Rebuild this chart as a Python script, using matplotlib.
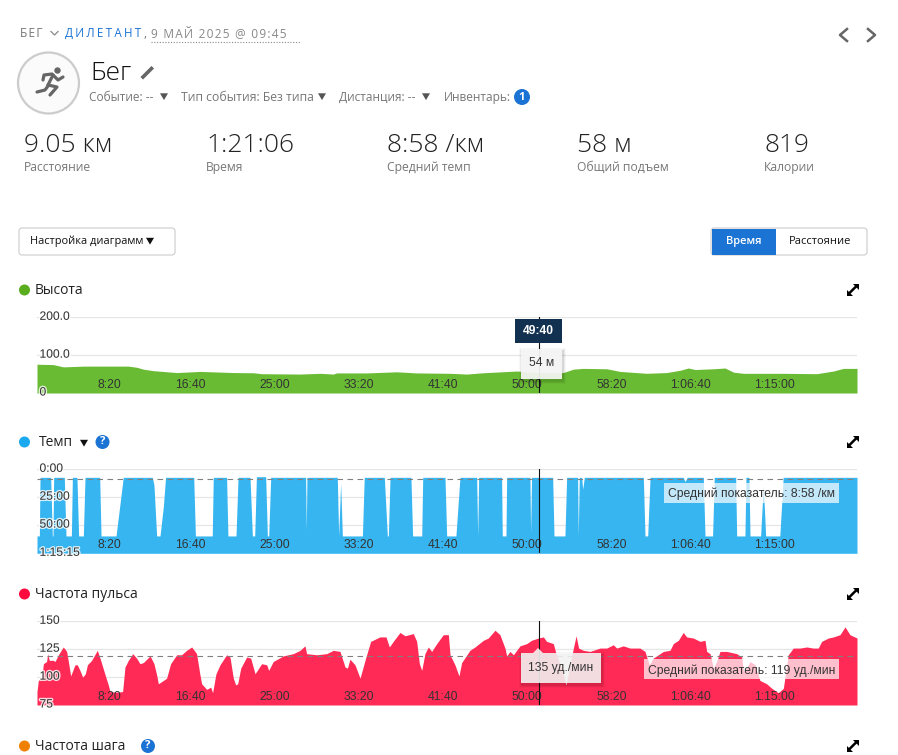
import matplotlib
matplotlib.use("Agg")
import matplotlib.pyplot as plt
import matplotlib.patheffects as pe
from matplotlib.patches import Rectangle, Circle, FancyBboxPatch, Polygon
from matplotlib.transforms import ScaledTranslation

W, H = 898, 755
UI_FONT = ["Open Sans", "DejaVu Sans"]
CHART_FONT = ["Liberation Sans", "DejaVu Sans"]

# seconds from the start of the activity
total_time = 4866
cursor_time = 2980
x_ticks = [500, 1000, 1500, 2000, 2500, 3000, 3500, 4000, 4500]
x_labels = ["8:20", "16:40", "25:00", "33:20", "41:40", "50:00", "58:20", "1:06:40", "1:15:00"]

# altitude, metres
alt_t = [0, 97, 156, 275, 374, 542, 591, 631, 690, 829, 968, 1165, 1284, 1333, 1561, 1680,
         1758, 1778, 1956, 2134, 2253, 2451, 2550, 2649, 2847, 2980, 3123, 3183, 3242, 3381,
         3460, 3618, 3737, 3816, 3865, 3905, 4014, 4083, 4133, 4192, 4429, 4627, 4726, 4785, 4866]
alt_m = [76, 75, 69, 71, 71, 71, 68, 63, 59, 54, 57, 54, 53.5, 51, 50, 52,
         50, 53, 53, 56, 53, 52, 50, 53.5, 58, 54, 54, 63, 65, 64,
         57, 52, 54, 60, 66, 62, 64, 66, 55, 52, 52, 51, 58, 65, 65]
alt_ticks = [0, 100, 200]
alt_labels = ["0", "100.0", "200.0"]

# pace, minutes per km
pace_t = [0, 14, 18, 81, 91, 95, 99, 162, 172, 204, 210, 237, 247, 275, 285, 372, 380,
          469, 512, 684, 694, 710, 730, 750, 763, 930, 940, 1040, 1046, 1125, 1133,
          1181, 1193, 1264, 1278, 1292, 1302, 1357, 1367, 1375, 1387, 1594, 1598, 1602,
          1782, 1790, 1802, 1812, 1931, 1942, 2061, 2079, 2085, 2095, 2219, 2229,
          2283, 2289, 2421, 2431, 2486, 2510, 2609, 2615, 2621, 2757, 2761, 2783, 2787,
          2925, 2929, 2935, 3060, 3068, 3133, 3143, 3208, 3212, 3218, 3232, 3238, 3248,
          3598, 3608, 3624, 3638, 3835, 3845, 3859, 3954, 3964, 4009, 4019, 4146, 4152,
          4201, 4207, 4225, 4231, 4294, 4310, 4324, 4408, 4428, 4866]
pace_min = [59.7, 59.7, 7.2, 7.2, 59.7, 59.7, 7.2, 7.2, 59.7, 59.7, 7.2, 7.2, 59.7, 59.7, 7.2, 7.2, 59.7,
            59.7, 7.2, 7.2, 14, 59.7, 59.7, 33, 7.2, 7.2, 59.7, 59.7, 7.2, 7.2, 59.7,
            59.7, 7.2, 7.2, 59.7, 59.7, 6.6, 6.6, 59.7, 59.7, 7.2, 7.2, 55, 7.2,
            7.2, 59.7, 12.5, 59.7, 59.7, 7.2, 7.2, 59.7, 59.7, 7.2, 7.2, 59.7,
            59.7, 7.2, 7.2, 59.7, 59.7, 7.2, 7.2, 59.7, 7.2, 7.2, 59.7, 59.7, 7.2,
            7.2, 57, 7.2, 7.2, 59.7, 59.7, 7.2, 7.2, 59.7, 7.2, 7.2, 18, 7.2,
            7.2, 59.7, 59.7, 7.2, 7.2, 11, 7.2, 7.2, 59.7, 59.7, 7.2, 7.2, 59.7,
            59.7, 7.2, 7.2, 59.7, 59.7, 14, 59.7, 59.7, 7.2, 7.2]
pace_ticks = [0, 25, 50, 75.25]
pace_labels = ["0:00", "25:00", "50:00", "1:15:15"]
pace_avg = 8.97

# heart rate, beats per minute
hr_t = [0, 8, 28, 38, 57, 63, 73, 97, 107, 127, 156, 176, 186, 200, 225, 239, 255, 271, 287, 299,
        324, 358, 378, 404, 423, 433, 473, 508, 522, 542, 568, 591, 611, 631, 671, 694, 710, 720,
        750, 769, 793, 829, 858, 888, 918, 947, 967, 977, 1007, 1031, 1042, 1062, 1086, 1125,
        1145, 1165, 1179, 1191, 1209, 1244, 1268, 1294, 1333, 1363, 1375, 1402, 1462, 1521,
        1561, 1590, 1600, 1660, 1719, 1758, 1798, 1828, 1842, 1857, 1887, 1917, 1952, 1980,
        2035, 2071, 2091, 2114, 2154, 2184, 2233, 2253, 2269, 2283, 2302, 2322, 2342, 2372,
        2411, 2441, 2451, 2480, 2504, 2520, 2569, 2599, 2649, 2678, 2718, 2747, 2777, 2787,
        2807, 2827, 2866, 2906, 2935, 2975, 3005, 3024, 3064, 3080, 3113, 3139, 3163, 3183,
        3199, 3214, 3242, 3282, 3341, 3381, 3420, 3440, 3479, 3519, 3578, 3608, 3618, 3634,
        3657, 3717, 3756, 3776, 3806, 3835, 3855, 3895, 3934, 3964, 3974, 3994, 4014, 4033,
        4053, 4093, 4152, 4182, 4192, 4211, 4231, 4261, 4290, 4330, 4360, 4399, 4429, 4449,
        4458, 4488, 4528, 4567, 4607, 4636, 4656, 4696, 4726, 4765, 4795, 4824, 4866]
hr_bpm = [87, 97, 100, 112, 114, 121, 115, 115, 114, 120, 127, 123, 114, 101, 111, 111, 106, 100, 103, 111,
          115, 124, 115, 102, 93, 87, 86.5, 87, 109, 115, 121, 117, 112, 113, 119, 112, 102, 94,
          97, 99, 112, 120, 120, 124, 127, 121, 102, 94, 89, 91, 86, 103, 111, 120,
          118, 99, 93, 94, 108, 118, 117, 103, 112, 111, 106, 114, 119, 121,
          124, 128, 121, 120, 121, 124, 123, 109, 108, 116, 111, 99, 118, 132,
          136, 136, 127, 132, 140, 137, 139, 132, 112, 106, 121, 127, 123, 130,
          138, 138, 120, 111, 101, 113, 124, 127, 133, 135, 142, 138, 126, 119,
          123, 120, 128, 130, 133, 135, 136, 132, 130, 121, 108, 93, 111, 126,
          137, 126, 124, 123, 126, 126, 129, 126, 128, 126, 126, 123, 118, 111,
          117, 123, 124, 130, 133, 140, 136, 135, 132, 133, 123, 121, 108, 114,
          123, 123, 121, 118, 105, 108, 114, 111, 97, 94, 90, 86, 90, 111,
          120, 126, 126, 127, 126, 126, 132, 135, 136, 138, 145, 138, 135]
hr_ticks = [75, 100, 125, 150]
hr_labels = ["75", "100", "125", "150"]
hr_avg = 119

stat_values = ["9.05 км", "1:21:06", "8:58 /км", "58 м", "819"]
stat_names = ["Расстояние", "Время", "Средний темп", "Общий подъем", "Калории"]
stat_x = [24, 206, 387, 577, 764]


def px_rect(left, top, right, bottom):
    return [left / W, 1 - bottom / H, (right - left) / W, (bottom - top) / H]


def draw_panel(top, bottom, t, v, color, ylim, ticks, labels, avg=None):
    box = px_rect(37, top, 857, bottom)
    # fill sits on top of the grid, tick labels on top of the fill
    back = fig.add_axes(box)
    back.set_xlim(0, total_time)
    back.set_ylim(*ylim)
    back.set_axisbelow(True)
    back.set_yticks(ticks)
    back.set_xticks([])
    back.tick_params(length=0, labelleft=False)
    back.grid(axis="y", color="#e6e6e6", lw=0.9)
    back.fill_between(t, v, ylim[0], color=color, lw=0)
    for s in back.spines.values():
        s.set_visible(False)

    front = fig.add_axes(box, facecolor="none")
    front.set_xlim(0, total_time)
    front.set_ylim(*ylim)
    front.set_xticks(x_ticks)
    front.set_xticklabels(x_labels, family=CHART_FONT, fontsize=8.7, color="#333333", ha="right")
    front.set_yticks(ticks)
    front.set_yticklabels(labels, family=CHART_FONT, fontsize=8.7, color="#333333")
    front.tick_params(axis="x", length=0, pad=-10.4)
    front.tick_params(axis="y", length=0, pad=-1.8)
    shift = ScaledTranslation(0, 2 / 100, fig.dpi_scale_trans)
    for lab in front.get_yticklabels():
        lab.set_ha("left")
        lab.set_transform(lab.get_transform() + shift)
        lab.set_path_effects([pe.withStroke(linewidth=2, foreground="white", alpha=0.8)])
    for s in front.spines.values():
        s.set_visible(False)
    if avg is not None:
        front.axhline(avg, color="#808080", lw=0.8, dashes=(5, 4))
    front.axvline(cursor_time, color="#111111", lw=0.8)


def ui(x, y, s, size=8.7, color="#777777", family=UI_FONT, **kw):
    # Open Sans sits a little high when centred
    dy = 1 if family is UI_FONT else 0
    ov.text(x, y + dy, s, fontsize=size, color=color, family=family, va="center", **kw)


def rounded(left, top, right, bottom, face, edge):
    ov.add_patch(FancyBboxPatch((left + 3, top + 3), right - left - 6, bottom - top - 6,
                                boxstyle="round,pad=3,rounding_size=3", fc=face, ec=edge, lw=0.8))


def tip_box(left, top, right, bottom, alpha):
    for grow, a in [(3, 0.03), (2, 0.05), (1, 0.08)]:
        ov.add_patch(Rectangle((left - grow + 1, top - grow + 2), right - left + 2 * grow,
                               bottom - top + 2 * grow, fc="black", alpha=a, lw=0))
    ov.add_patch(Rectangle((left, top), right - left, bottom - top, fc="#f7f7f7", alpha=alpha, lw=0))


def badge(x, y, s, r=7.5):
    ov.add_patch(Circle((x, y), r, fc="#1b74d3", lw=0))
    ov.text(x, y, s, color="white", fontsize=8, fontweight="bold", ha="center", va="center",
            family=UI_FONT)


def arrow_down(x, y, size=4, color="#555555"):
    ov.add_patch(Polygon([(x - size, y - size * 0.8), (x + size, y - size * 0.8), (x, y + size * 0.9)],
                         fc=color, lw=0))


def expand_icon(x, y):
    ov.plot([x - 3, x + 3], [y + 3, y - 3], color="black", lw=1.8)
    ov.add_patch(Polygon([(x, y - 6), (x + 6, y - 6), (x + 6, y)], fc="black", lw=0))
    ov.add_patch(Polygon([(x - 6, y), (x - 6, y + 6), (x, y + 6)], fc="black", lw=0))


def spaced(s, gap="\u200a\u200a"):
    return gap.join(s)


fig = plt.figure(figsize=(W / 100, H / 100), dpi=100, facecolor="white")

draw_panel(317.3, 393, alt_t, alt_m, "#69bb33", (0, 200), alt_ticks, alt_labels)
draw_panel(469.3, 553.3, pace_t, pace_min, "#36b5f0", (75.25, 0), pace_ticks, pace_labels, pace_avg)
draw_panel(621.3, 705, hr_t, hr_bpm, "#ff2a55", (75, 150), hr_ticks, hr_labels, hr_avg)

# everything around the charts is placed in screen pixels
ov = fig.add_axes([0, 0, 1, 1], facecolor="none")
ov.set_xlim(0, W)
ov.set_ylim(H, 0)
ov.axis("off")

# breadcrumb
ui(19.5, 32.5, spaced("БЕГ", "\u200a"), size=8.6, color="#777777")
ov.plot([51, 54.5, 58], [31.5, 35, 31.5], color="#888888", lw=0.9)
ui(65, 32.5, spaced("ДИЛЕТАНТ", "\u200a\u200a"), size=8.4, color="#1b74d3")
ui(143.5, 32.5, ",", size=8.6, color="#777777")
ui(151, 32.5, spaced("9 МАЙ 2025 @ 09:45", "\u200a"), size=8.6, color="#888888")
ov.plot([151, 300], [41.5, 41.5], color="#888888", lw=0.8, ls=(0, (1, 1.5)))
ov.plot([847, 840, 847], [29, 35, 41], color="#666666", lw=1.8)
ov.plot([868, 875, 868], [29, 35, 41], color="#666666", lw=1.8)

# activity icon
ov.add_patch(Circle((48.5, 83), 30.5, fc="#fbfbfb", ec="#cccccc", lw=1.6))
ov.add_patch(Circle((57.5, 70.5), 3.2, fc="#666666", lw=0))
for xs, ys in [([53, 48], [75, 85]),
               ([53, 58, 63], [75, 80, 77]),
               ([52, 44, 43], [74, 75, 80]),
               ([48, 57, 50], [85, 87, 95]),
               ([48, 45, 37], [86, 90, 92])]:
    ov.plot(xs, ys, color="#666666", lw=2.3, solid_capstyle="round", solid_joinstyle="round")

ui(90, 72, "Бег", size=19, color="#111111", fontweight="light")
ov.plot([143, 151.5], [77, 68.5], color="#666666", lw=2.6)

ui(89, 96.5, "Событие: --", size=8.6, color="#777777")
arrow_down(164, 96.5)
ui(181, 96.5, "Тип события: Без типа", size=8.8, color="#777777")
arrow_down(322, 96.5)
ui(339, 96.5, "Дистанция: --", size=8.6, color="#777777")
arrow_down(426, 96.5)
ui(444, 96.5, "Инвентарь:", size=8.6, color="#777777")
badge(522, 97, "1", r=8)

for x, val, name in zip(stat_x, stat_values, stat_names):
    ui(x, 145, val, size=19, color="#222222", fontweight="light")
    ui(x, 166.5, name, size=8.7, color="#777777")

# buttons
rounded(19, 228, 175, 255, "white", "#cccccc")
ui(30, 240.5, "Настройка диаграмм", size=7.9, color="#111111")
arrow_down(150, 241, size=4, color="#111111")
rounded(711, 228, 867, 255, "white", "#cccccc")
ov.add_patch(Rectangle((712, 228.5), 64, 26, fc="#1b74d3", lw=0))
ui(743.5, 240.5, "Время", size=8, color="white", ha="center", fontweight="semibold")
ui(820.5, 240.5, "Расстояние", size=8, color="#111111", ha="center")

# panel headings
ov.add_patch(Circle((24.5, 290), 5.5, fc="#5aae1e", lw=0))
ui(35, 289.5, "Высота", size=10, color="#222222")
ov.add_patch(Circle((24.5, 442), 5.5, fc="#1aa9ee", lw=0))
ui(39, 441.5, "Темп", size=10, color="#222222")
arrow_down(84, 443, color="#111111")
badge(102.5, 442, "?", r=7)
ov.add_patch(Circle((24.5, 594), 5.5, fc="#ff0a3c", lw=0))
ui(35, 593.5, "Частота пульса", size=10, color="#222222")
ov.add_patch(Circle((24.5, 746), 5.5, fc="#f08000", lw=0))
ui(35, 745.5, "Частота шага", size=10, color="#222222")
badge(148, 746, "?", r=7)
for y in [290, 442, 594, 746]:
    expand_icon(852.5, y)

# cursor read-outs
ov.add_patch(Rectangle((515, 319), 47, 24, fc="#12304f", lw=0))
ui(538.5, 331, "49:40", size=8.7, color="white", family=CHART_FONT, ha="center", fontweight="bold")
tip_box(521, 349, 562, 378.5, 0.93)
ui(541.5, 363.5, "54 м", size=8.7, color="#333333", family=CHART_FONT, ha="center")

ov.add_patch(Rectangle((664, 483), 175, 20, fc="white", alpha=0.7, lw=0))
ui(751.5, 494, "Средний показатель: 8:58 /км", size=8.7, color="#333333", family=CHART_FONT, ha="center")

ov.add_patch(Rectangle((644, 659), 195, 20, fc="white", alpha=0.7, lw=0))
ui(741.5, 671, "Средний показатель: 119 уд./мин", size=8.7, color="#333333", family=CHART_FONT, ha="center")

tip_box(521, 653, 601, 682.5, 0.88)
ov.add_patch(Polygon([(533, 653), (538, 648), (543, 653)], fc="#f7f7f7", alpha=0.88, lw=0))
ui(561, 667.5, "135 уд./мин", size=8.7, color="#333333", family=CHART_FONT, ha="center")

fig.savefig("out.png", dpi=100)
